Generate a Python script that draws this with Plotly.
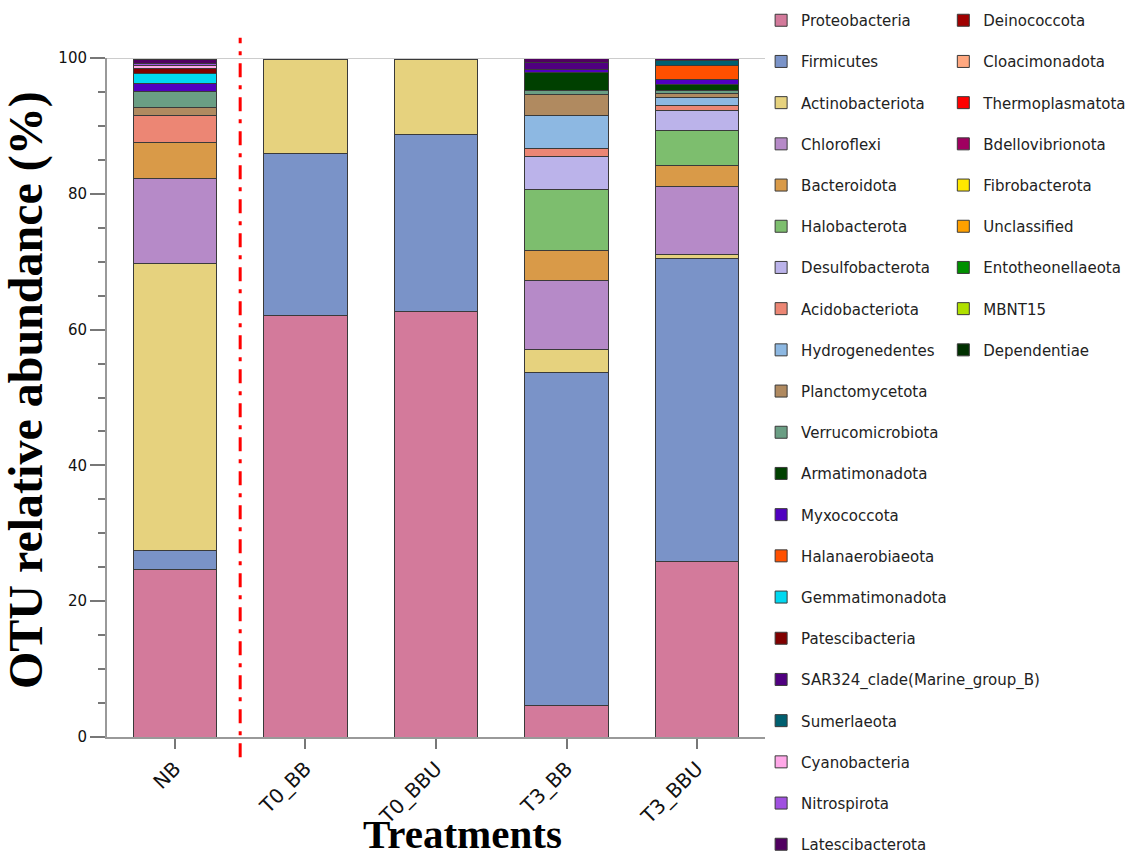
import plotly.graph_objects as go

categories = ["NB", "T0_BB", "T0_BBU", "T3_BB", "T3_BBU"]

phyla = [
    "Proteobacteria", "Firmicutes", "Actinobacteriota", "Chloroflexi", "Bacteroidota",
    "Halobacterota", "Desulfobacterota", "Acidobacteriota", "Hydrogenedentes", "Planctomycetota",
    "Verrucomicrobiota", "Armatimonadota", "Myxococcota", "Halanaerobiaeota", "Gemmatimonadota",
    "Patescibacteria", "SAR324_clade(Marine_group_B)", "Sumerlaeota", "Cyanobacteria", "Nitrospirota",
    "Latescibacterota", "Deinococcota", "Cloacimonadota", "Thermoplasmatota", "Bdellovibrionota",
    "Fibrobacterota", "Unclassified", "Entotheonellaeota", "MBNT15", "Dependentiae",
]

colors = [
    "#D37A9B", "#7A93C8", "#E6D27E", "#B68AC8", "#D99A48",
    "#7DBE6E", "#BBB3EA", "#EC8674", "#8DB8E2", "#B08A60",
    "#6A9E84", "#004000", "#5000C0", "#FF5000", "#00D8F0",
    "#800000", "#500080", "#006070", "#FFA8E8", "#A050E0",
    "#500060", "#A00000", "#FFA880", "#FF0000", "#A00060",
    "#FFE800", "#FFA000", "#009000", "#B0E000", "#003000",
]

# relative abundance (%) per phylum, order: NB, T0_BB, T0_BBU, T3_BB, T3_BBU
Proteobacteria = [24.7, 62.1, 62.7, 4.7, 25.8]
Firmicutes = [2.7, 23.9, 26.1, 49.0, 44.6]
Actinobacteriota = [42.3, 13.8, 11.0, 3.3, 0.6]
Chloroflexi = [12.5, 0, 0, 10.2, 10.1]
Bacteroidota = [5.3, 0, 0, 4.4, 3.0]
Halobacterota = [0, 0, 0, 9.1, 5.2]
Desulfobacterota = [0, 0, 0, 4.8, 2.9]
Acidobacteriota = [4.1, 0, 0, 1.2, 0.85]
Hydrogenedentes = [0, 0, 0, 4.9, 1.1]
Planctomycetota = [1.1, 0, 0, 3.0, 0.6]
Verrucomicrobiota = [2.3, 0, 0, 0.6, 0.5]
Armatimonadota = [0, 0, 0, 2.6, 0.9]
Myxococcota = [1.2, 0, 0, 0.5, 0.75]
Halanaerobiaeota = [0, 0, 0, 0, 2.0]
Gemmatimonadota = [1.5, 0, 0, 0, 0]
Patescibacteria = [0.7, 0, 0, 0, 0]
SAR324 = [0, 0, 0, 1.0, 0]
Sumerlaeota = [0, 0, 0, 0, 0.7]
Cyanobacteria = [0.5, 0, 0, 0, 0]
Nitrospirota = [0.35, 0, 0, 0, 0]
Latescibacterota = [0.5, 0, 0, 0.7, 0.3]
Deinococcota = [0.2, 0, 0, 0, 0]
Cloacimonadota = [0, 0, 0, 0, 0]
Thermoplasmatota = [0, 0, 0, 0, 0]
Bdellovibrionota = [0, 0, 0, 0, 0]
Fibrobacterota = [0, 0, 0, 0, 0]
Unclassified = [0, 0.2, 0.2, 0, 0]
Entotheonellaeota = [0, 0, 0, 0, 0]
MBNT15 = [0, 0, 0, 0, 0]
Dependentiae = [0, 0, 0, 0, 0]

values = [
    Proteobacteria, Firmicutes, Actinobacteriota, Chloroflexi, Bacteroidota,
    Halobacterota, Desulfobacterota, Acidobacteriota, Hydrogenedentes, Planctomycetota,
    Verrucomicrobiota, Armatimonadota, Myxococcota, Halanaerobiaeota, Gemmatimonadota,
    Patescibacteria, SAR324, Sumerlaeota, Cyanobacteria, Nitrospirota,
    Latescibacterota, Deinococcota, Cloacimonadota, Thermoplasmatota, Bdellovibrionota,
    Fibrobacterota, Unclassified, Entotheonellaeota, MBNT15, Dependentiae,
]

fig = go.Figure()
for i, (name, col, vals) in enumerate(zip(phyla, colors, values)):
    fig.add_trace(go.Bar(
        x=categories,
        y=[v if v > 0 else None for v in vals],
        name=name,
        marker=dict(color=col, line=dict(color="#3a3a3a", width=1)),
        width=0.64,
        legend="legend" if i < 21 else "legend2",
        legendgroup=name,
    ))

legend_font = dict(family="DejaVu Sans", size=15, color="#222")
legend_common = dict(yref="container", y=1 - 4 / 860, xanchor="left", yanchor="top",
                     font=legend_font, tracegroupgap=18.7, bgcolor="rgba(0,0,0,0)",
                     traceorder="grouped", maxheight=900)
fig.update_layout(
    barmode="stack",
    width=1131, height=860,
    margin=dict(l=107, r=366, t=58, b=123, autoexpand=False),
    plot_bgcolor="white", paper_bgcolor="white",
    showlegend=True,
    legend=dict(x=0.9941, **legend_common),
    legend2=dict(x=1.271, **legend_common),
    xaxis=dict(range=[-0.52, 4.52], showline=True, linecolor="#999", linewidth=2,
               ticks="outside", ticklen=10, tickcolor="#777", tickwidth=2,
               tickangle=-45, tickfont=dict(family="DejaVu Sans", size=20, color="#111"),
               showgrid=False, zeroline=False),
    yaxis=dict(range=[0, 100], showline=True, linecolor="#999", linewidth=2,
               ticks="outside", ticklen=15, tickcolor="#777", tickwidth=1.5,
               tickvals=[0, 20, 40, 60, 80, 100],
               minor=dict(dtick=5, ticks="outside", ticklen=7, tickcolor="#777", tickwidth=1.5),
               tickfont=dict(family="DejaVu Sans", size=15, color="#111"),
               showgrid=False, zeroline=False),
)

fig.add_shape(type="line", xref="paper", yref="y", x0=0, x1=1, y0=100, y1=100,
              line=dict(color="#cccccc", width=2))
fig.add_shape(type="line", xref="x", yref="paper", x0=0.5, x1=0.5, y0=-0.03, y1=1.03,
              line=dict(color="#FF0000", width=3, dash="14px,8px,4px,8px"))

fig.add_annotation(text="<b>OTU relative abundance (%)</b>", xref="paper", yref="paper",
                   x=(26 - 107) / 658, y=(737 - 390) / 679, textangle=-90, showarrow=False,
                   font=dict(family="Liberation Serif", size=48, color="#000"),
                   xanchor="center", yanchor="middle")
fig.add_annotation(text="<b>Treatments</b>", xref="paper", yref="paper",
                   x=(462 - 107) / 658, y=-(859 - 737) / 679, showarrow=False,
                   font=dict(family="Liberation Serif", size=41, color="#000"),
                   xanchor="center", yanchor="bottom")

fig.write_html("out.html", config={"displayModeBar": False},
               post_script="document.body.style.margin='0';")
